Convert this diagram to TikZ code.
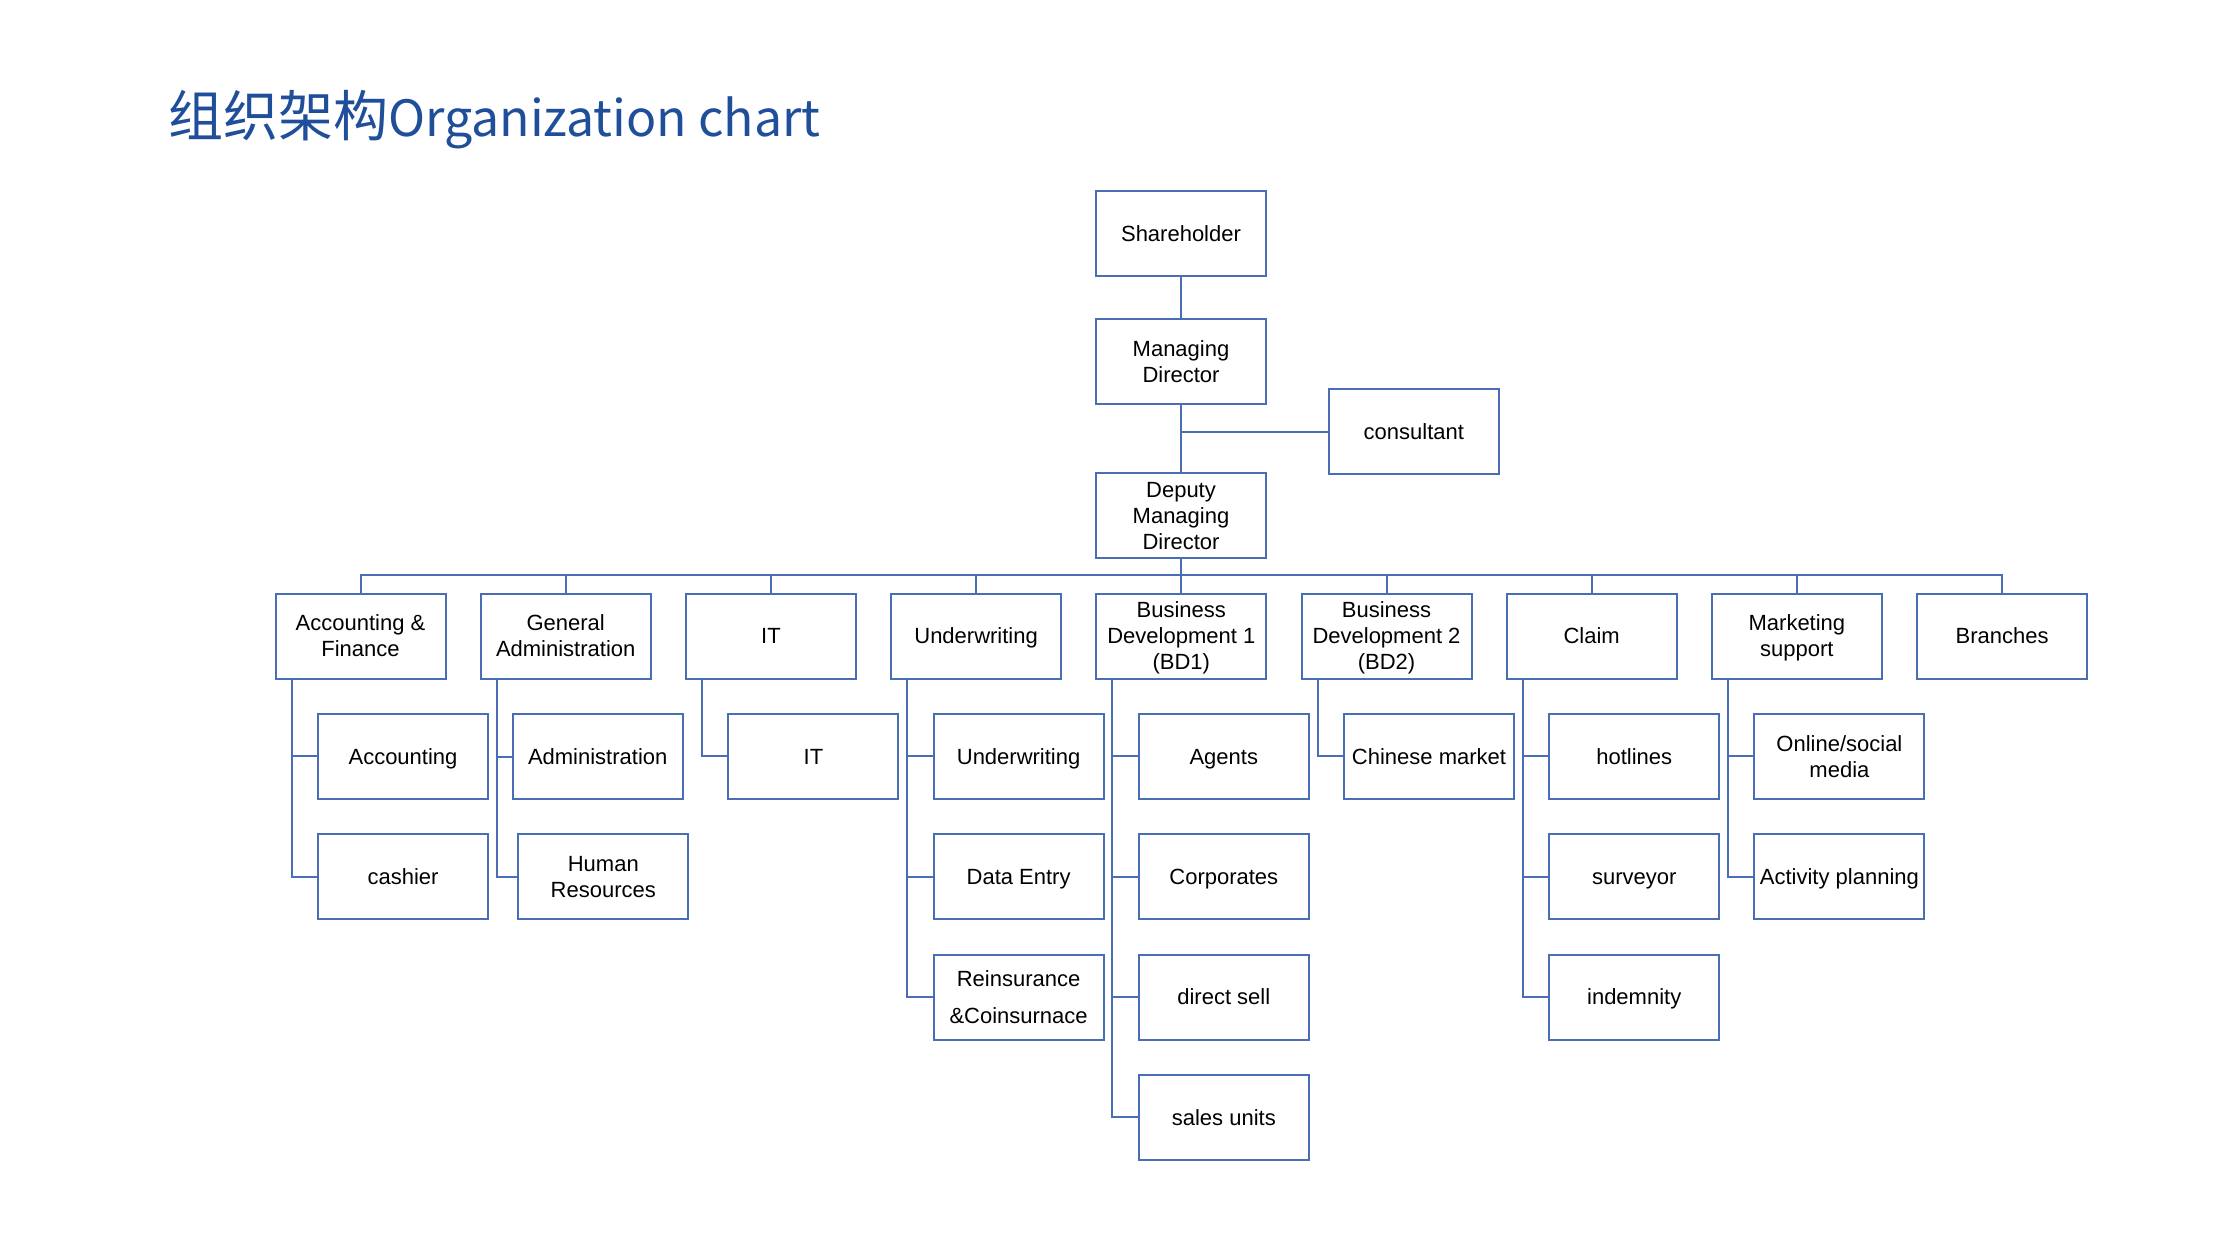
\documentclass[tikz,border=0pt]{standalone}
\usepackage{fontspec}
\setmainfont{Liberation Sans}
\newfontfamily\titlefont{Noto Sans CJK SC}
\definecolor{linec}{RGB}{74,110,181}
\definecolor{titlec}{RGB}{31,78,154}
\newcommand\boxstrut{\rule[-6pt]{0pt}{27.4pt}}
\tikzset{
  box/.style={draw=linec, line width=2pt, fill=white, minimum width=170pt, minimum height=85pt,
    inner sep=0pt, align=center, text=black, font=\fontsize{22}{26}\selectfont,
    execute at begin node=\boxstrut, execute at end node=\boxstrut},
  conn/.style={draw=linec, line width=2pt},
}
\begin{document}
\begin{tikzpicture}[x=1pt,y=-1pt]
\fill[white] (0,0) rectangle (2240,1260);
\useasboundingbox (0,0) rectangle (2240,1260);
% title
\node[anchor=base west, inner sep=0pt, text=titlec, font=\titlefont\fontsize{55}{60}\selectfont] (title) at (168,137) {组织架构{\fontsize{50}{60}\selectfont Organization chart}};
% top chain
\node[box] (sh) at (1181,233.3) {Shareholder};
\node[box] (md) at (1181,361.3) {\boxstrut Managing\\Director};
\node[box] (cons) at (1413.8,431.7) {consultant};
\node[box] (dmd) at (1181,515.7) {\boxstrut Deputy\\Managing\\Director};
\coordinate (bus) at (1181,575);
% level 2
\node[box] (af) at (360.5,636) {\boxstrut Accounting \&\\Finance};
\node[box] (ga) at (565.7,636) {\boxstrut General\\Administration};
\node[box] (it) at (770.9,636) {IT};
\node[box] (uw) at (976.1,636) {Underwriting};
\node[box] (bd1) at (1181.3,636) {\boxstrut Business\\Development 1\\(BD1)};
\node[box] (bd2) at (1386.5,636) {\boxstrut Business\\Development 2\\(BD2)};
\node[box] (cl) at (1591.7,636) {Claim};
\node[box] (mk) at (1796.9,636) {\boxstrut Marketing\\support};
\node[box] (br) at (2002.1,636) {Branches};
% level 3
\node[box] (acc) at (403,756.3) {Accounting};
\node[box] (cash) at (403,876.6) {cashier};
\node[box] (adm) at (597.7,756.6) {Administration};
\node[box] (hr) at (603.3,876.8) {\boxstrut Human\\Resources};
\node[box] (it2) at (813.4,756.3) {IT};
\node[box] (uw2) at (1018.6,756.3) {Underwriting};
\node[box] (de) at (1018.6,876.6) {Data Entry};
\node[box, font=\fontsize{22}{37}\selectfont] (re) at (1018.6,997) {\boxstrut Reinsurance\\\&Coinsurnace};
\node[box] (ag) at (1223.8,756.3) {Agents};
\node[box] (corp) at (1223.8,876.6) {Corporates};
\node[box] (ds) at (1223.8,997) {direct sell};
\node[box] (su) at (1223.8,1117.3) {sales units};
\node[box] (cm) at (1429,756.3) {Chinese market};
\node[box] (hot) at (1634.2,756.3) {hotlines};
\node[box] (sur) at (1634.2,876.6) {surveyor};
\node[box] (ind) at (1634.2,997) {indemnity};
\node[box] (onl) at (1839.4,756.3) {\boxstrut Online/social\\media};
\node[box] (act) at (1839.4,876.6) {Activity planning};
% connectors top
\draw[conn] (sh.south) -- (md.north);
\draw[conn] (md.south) -- (dmd.north);
\draw[conn] (md.south |- cons.west) -- (cons.west);
\draw[conn] (dmd.south) -- (dmd.south |- bus);
\draw[conn] (af.north) -- (af.north |- bus) -- (br.north |- bus) -- (br.north);
\foreach \n in {ga,it,uw,bd1,bd2,cl,mk}{
  \draw[conn] (\n.north) -- (\n.north |- bus);
}
% children connectors
\draw[conn] ([xshift=17pt]af.south west) |- (acc.west);
\draw[conn] ([xshift=17pt]af.south west) |- (cash.west);
\draw[conn] ([xshift=17pt]ga.south west) |- (adm.west);
\draw[conn] ([xshift=17pt]ga.south west) |- (hr.west);
\draw[conn] ([xshift=17pt]it.south west) |- (it2.west);
\draw[conn] ([xshift=17pt]uw.south west) |- (uw2.west);
\draw[conn] ([xshift=17pt]uw.south west) |- (de.west);
\draw[conn] ([xshift=17pt]uw.south west) |- (re.west);
\draw[conn] ([xshift=17pt]bd1.south west) |- (ag.west);
\draw[conn] ([xshift=17pt]bd1.south west) |- (corp.west);
\draw[conn] ([xshift=17pt]bd1.south west) |- (ds.west);
\draw[conn] ([xshift=17pt]bd1.south west) |- (su.west);
\draw[conn] ([xshift=17pt]bd2.south west) |- (cm.west);
\draw[conn] ([xshift=17pt]cl.south west) |- (hot.west);
\draw[conn] ([xshift=17pt]cl.south west) |- (sur.west);
\draw[conn] ([xshift=17pt]cl.south west) |- (ind.west);
\draw[conn] ([xshift=17pt]mk.south west) |- (onl.west);
\draw[conn] ([xshift=17pt]mk.south west) |- (act.west);
\end{tikzpicture}
\end{document}
